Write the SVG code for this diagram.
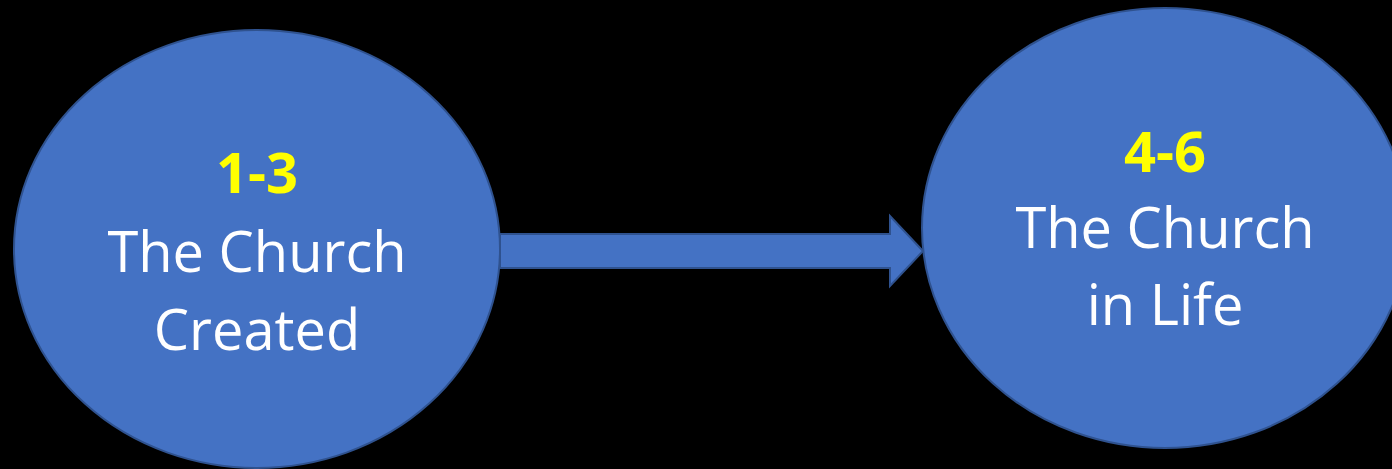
<svg xmlns="http://www.w3.org/2000/svg" width="1392" height="469" viewBox="0 0 1392 469">
<style>
.node{fill:#4472C4;stroke:#2F528F;stroke-width:2}
.num{font-family:"Open Sans","Liberation Sans",sans-serif;font-size:56px;font-weight:bold;fill:#FFFF00;text-anchor:middle}
.lbl{font-family:"Open Sans","Liberation Sans",sans-serif;font-size:56px;fill:#FFFFFF;text-anchor:middle}
</style>
<rect width="1392" height="469" fill="#000000"/>
<g id="connectors">
<path class="node" d="M500,234 H890 V216 L923,251 L890,286 V268 H500 Z"/>
</g>
<g id="node-1-3">
<ellipse class="node" cx="257" cy="249" rx="243" ry="219"/>
<text class="num" x="257" y="193">1-3</text>
<text class="lbl" x="257" y="272">The Church</text>
<text class="lbl" x="257" y="350">Created</text>
</g>
<g id="node-4-6">
<ellipse class="node" cx="1165" cy="228" rx="243" ry="220"/>
<text class="num" x="1165" y="172">4-6</text>
<text class="lbl" x="1165" y="248">The Church</text>
<text class="lbl" x="1165" y="325">in Life</text>
</g>
</svg>
